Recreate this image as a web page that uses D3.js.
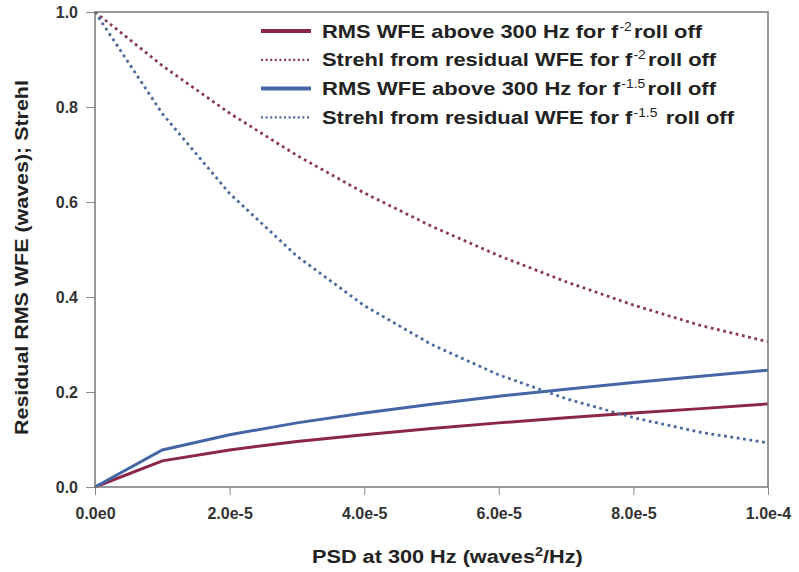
<!DOCTYPE html>
<html>
<head>
<meta charset="utf-8">
<script src="https://cdn.jsdelivr.net/npm/d3@7"></script>
<style>
  body { margin: 0; background: #fff; }
  text { font-family: "Liberation Sans", Arial, sans-serif; font-weight: bold; }
</style>
</head>
<body>
<div id="chart"></div>
<script>
// --- Data ---
const psd = [0, 1e-5, 2e-5, 3e-5, 4e-5, 5e-5, 6e-5, 7e-5, 8e-5, 9e-5, 1e-4];
const rmsF2 = [0, 0.055, 0.078, 0.096, 0.110, 0.123, 0.135, 0.146, 0.156, 0.165, 0.175];
const strehlF2 = [1.0, 0.887, 0.787, 0.698, 0.619, 0.549, 0.487, 0.432, 0.383, 0.340, 0.306];
const rmsF15 = [0, 0.078, 0.110, 0.135, 0.156, 0.174, 0.191, 0.206, 0.220, 0.233, 0.246];
const strehlF15 = [1.0, 0.786, 0.618, 0.486, 0.382, 0.300, 0.236, 0.186, 0.146, 0.115, 0.093];

const xTicks = [0, 2e-5, 4e-5, 6e-5, 8e-5, 1e-4];
const xTickLabels = ["0.0e0", "2.0e-5", "4.0e-5", "6.0e-5", "8.0e-5", "1.0e-4"];
const yTicks = [0, 0.2, 0.4, 0.6, 0.8, 1.0];

// legend: [before superscript, superscript, after superscript]
const legendText = [
  ["RMS WFE above 300 Hz for f", "-2", "roll off"],
  ["Strehl from residual WFE for f", "-2", "roll off"],
  ["RMS WFE above 300 Hz for f", "-1.5", "roll off"],
  ["Strehl from residual WFE for f", "-1.5", " roll off"]
];
// widths the legend lines take in the reference
const legendWidths = [381, 395, 395, 413];

const series = [
  { values: rmsF2, color: "#8c2646", dash: null },
  { values: strehlF2, color: "#8a3a52", dash: "2.8,3.6" },
  { values: rmsF15, color: "#4466a6", dash: null },
  { values: strehlF15, color: "#4a6a9c", dash: "2.8,3.6" }
];

// --- Sizes ---
const W = 799, H = 572;
const plot = { left: 95, right: 768, top: 12, bottom: 487 };

const svg = d3.select("#chart").append("svg")
  .attr("width", W)
  .attr("height", H);

// stretch a text horizontally so it spans the given width
const fitText = (sel, x0, y0, width, rotate) => {
  sel.each(function () {
    const w = this.getBBox().width;
    const k = width / w;
    d3.select(this).attr("transform",
      `translate(${x0},${y0})` + (rotate ? ` rotate(${rotate})` : "") + ` scale(${k},1)`);
  });
};

// --- Scales ---
const x = d3.scaleLinear().domain([0, 1e-4]).range([plot.left, plot.right]);
const y = d3.scaleLinear().domain([0, 1]).range([plot.bottom, plot.top]);

// --- Axes ---
const xAxis = svg.append("g")
  .attr("transform", `translate(0, ${plot.bottom})`)
  .call(d3.axisBottom(x).tickValues(xTicks)
    .tickFormat((d, i) => xTickLabels[i]).tickSizeOuter(0).tickSize(8).tickPadding(12.5));
xAxis.select(".domain").remove();
xAxis.selectAll("line").attr("stroke", "#888");
xAxis.selectAll("text").attr("fill", "#333").style("font-size", "16px");

const yAxis = svg.append("g")
  .attr("transform", `translate(${plot.left}, 0)`)
  .call(d3.axisLeft(y).tickValues(yTicks)
    .tickFormat(d3.format(".1f")).tickSizeOuter(0).tickSize(9).tickPadding(8));
yAxis.select(".domain").remove();
yAxis.selectAll("line").attr("stroke", "#888");
yAxis.selectAll("text").attr("fill", "#333").style("font-size", "16px");

// --- Lines ---
const line = vals => d3.line()
  .x((d, i) => x(psd[i]))
  .y(d => y(d))(vals);

svg.selectAll("path.series")
  .data(series)
  .join("path")
  .attr("class", "series")
  .attr("d", d => line(d.values))
  .attr("fill", "none")
  .attr("stroke", d => d.color)
  .attr("stroke-width", d => d.dash ? 2.8 : 3)
  .attr("stroke-dasharray", d => d.dash);

// plot frame
svg.append("rect")
  .attr("x", plot.left)
  .attr("y", plot.top)
  .attr("width", plot.right - plot.left)
  .attr("height", plot.bottom - plot.top)
  .attr("fill", "none")
  .attr("stroke", "#777")
  .attr("stroke-width", 1.5);

// --- Legend ---
const legend = svg.append("g").attr("transform", "translate(261, 31)");
const rows = legend.selectAll("g")
  .data(series)
  .join("g")
  .attr("transform", (d, i) => `translate(0, ${i * 28.8})`);

rows.append("line")
  .attr("x1", 0).attr("x2", 50)
  .attr("y1", 0).attr("y2", 0)
  .attr("stroke", d => d.color)
  .attr("stroke-width", d => d.dash ? 2.2 : 4)
  .attr("stroke-dasharray", d => d.dash ? "2,2.6" : null);

const lt = rows.append("text")
  .attr("fill", "#222")
  .style("font-size", "19px");
lt.append("tspan").text((d, i) => legendText[i][0]);
lt.append("tspan").text((d, i) => legendText[i][1])
  .attr("dy", -7).attr("dx", 1).style("font-size", "12px").style("font-weight", "normal");
lt.append("tspan").text((d, i) => legendText[i][2])
  .attr("dy", 7).attr("dx", 2);
lt.each(function (d, i) { fitText(d3.select(this), 61, 6.5, legendWidths[i]); });

// --- Axis titles ---
const xTitle = svg.append("text")
  .attr("fill", "#222")
  .style("font-size", "18px")
  .call(t => {
    t.append("tspan").text("PSD at 300 Hz (waves");
    t.append("tspan").text("2").attr("dy", -7).style("font-size", "12px");
    t.append("tspan").text("/Hz)").attr("dy", 7);
  });
fitText(xTitle, 312, 563, 271);

const yTitle = svg.append("text")
  .attr("fill", "#222")
  .style("font-size", "19px")
  .text("Residual RMS WFE (waves); Strehl");
fitText(yTitle, 28, 435, 355, -90);
</script>
</body>
</html>
